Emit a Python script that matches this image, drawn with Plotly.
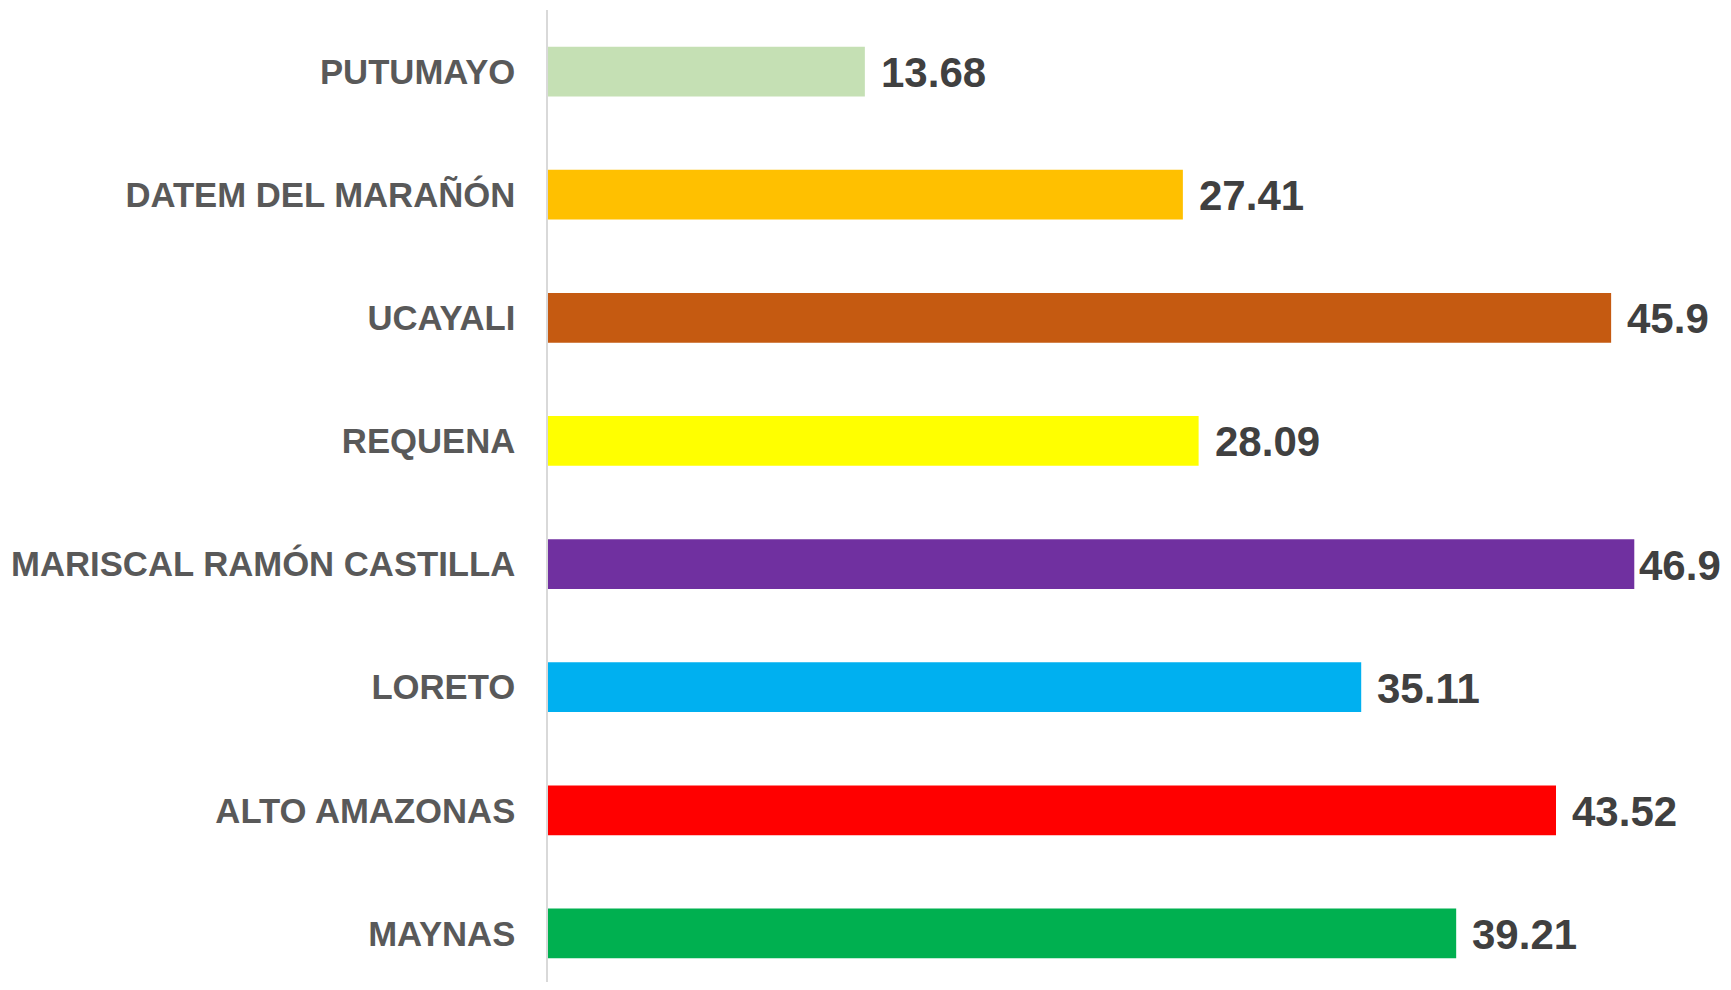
import plotly.graph_objects as go

categories = ["MAYNAS", "ALTO AMAZONAS", "LORETO", "MARISCAL RAMÓN CASTILLA",
              "REQUENA", "UCAYALI", "DATEM DEL MARAÑÓN", "PUTUMAYO"]
values = [39.21, 43.52, 35.11, 46.9, 28.09, 45.9, 27.41, 13.68]
labels = ["39.21", "43.52", "35.11", "46.9", "28.09", "45.9", "27.41", "13.68"]
colors = ["#00B050", "#FF0000", "#00B0F0", "#7030A0",
          "#FFFF00", "#C55A11", "#FFC000", "#C5E0B4"]

fig = go.Figure(go.Bar(
    y=categories,
    x=values,
    orientation="h",
    marker=dict(color=colors, line=dict(width=0)),
    hoverinfo="skip",
))

vmax = max(values)
for cat, v, lab in zip(categories, values, labels):
    fig.add_annotation(
        x=v, y=cat, xref="x", yref="y",
        text=lab, showarrow=False,
        xanchor="left", yanchor="middle",
        xshift=3 if v == vmax else 14, yshift=-1,
        font=dict(family="Liberation Sans, Arial, sans-serif", size=42, color="#404040", weight="bold"),
    )

fig.update_layout(
    width=1715,
    height=974,
    margin=dict(l=540, r=0, t=2, b=0),
    paper_bgcolor="white",
    plot_bgcolor="white",
    bargap=0.596,
    showlegend=False,
    xaxis=dict(visible=False, range=[0, 50.73], fixedrange=True),
    yaxis=dict(
        type="category",
        categoryorder="array",
        categoryarray=categories,
        range=[-0.394, 7.5],
        showline=True,
        linecolor="#D9D9D9",
        linewidth=1.5,
        showgrid=False,
        zeroline=False,
        ticks="",
        ticklabelstandoff=24,
        tickfont=dict(family="Liberation Sans, Arial, sans-serif", size=34.7, color="#595959", weight="bold"),
    ),
)

fig.write_html("out.html")
